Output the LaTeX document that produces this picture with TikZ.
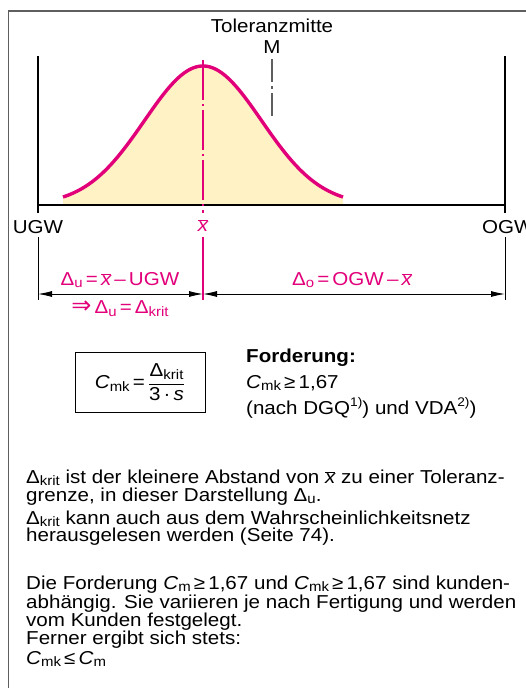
\documentclass[tikz,border=0pt]{standalone}
\usepackage{fontspec}
\setmainfont{Liberation Sans}[FakeStretch=1.1]
\newfontfamily\djv{DejaVu Sans}
\usetikzlibrary{arrows.meta}
\definecolor{mag}{RGB}{226,0,122}
\definecolor{bellfill}{RGB}{255,242,196}
\definecolor{framegray}{RGB}{95,95,95}
\newcommand\xb{\ensuremath{\overline{\mbox{\itshape x}}}}
\newcommand\sbs[1]{\raisebox{-0.28ex}{\fontsize{13.6}{13.6}\selectfont #1}}
\newcommand\sps[1]{\raisebox{0.75ex}{\fontsize{12.5}{12.5}\selectfont #1}}
\begin{document}
\begin{tikzpicture}[x=1pt,y=-1pt,
  font=\fontsize{18.7}{19}\selectfont,
  lbl/.style={inner sep=0pt},
  txt/.style={inner sep=0pt,anchor=base west},
  pinktxt/.style={inner sep=0pt,text=mag},
  thickline/.style={line width=2.2pt,black},
  thinline/.style={line width=0.9pt,black},
  dim/.style={line width=0.9pt,black,{Latex[length=14pt,width=6pt]}-{Latex[length=14pt,width=6pt]}},
  centerline/.style={mag,line width=1.1pt,dash pattern=on 40pt off 4pt on 2pt off 4pt},
  mline/.style={framegray,line width=1.1pt,dash pattern=on 23pt off 4pt on 3pt off 4pt}]
\useasboundingbox (0,0) rectangle (526,688);
% frame
\draw[framegray,line width=1.5pt] (8.5,700) -- (8.5,11) -- (540,11);
% coordinates
\coordinate (ugwTop) at (38,56);
\coordinate (ugwBot) at (38,213);
\coordinate (ogwTop) at (505,56);
\coordinate (ogwBot) at (505,213);
\coordinate (baseL) at (38,205);
\coordinate (baseR) at (505,205);
\coordinate (xTop) at (203,60);
\coordinate (xBot) at (203,213);
\coordinate (mTop) at (272,59);
\coordinate (mBot) at (272,116);
% bell fill
\fill[bellfill] plot[domain=63:343,samples=120] (\x,{205-139*exp(-0.5*((\x-203)/58.6)^2)}) -- (343,204) -- (63,204) -- cycle;
% axes
\draw[thickline] (ugwTop) -- (ugwBot);
\draw[thickline] (ogwTop) -- (ogwBot);
\draw[thickline] (baseL) -- (baseR);
% center lines
\draw[centerline] (xTop) -- (xBot);
\draw[mline] (mTop) -- (mBot);
% bell curve
\draw[mag,line width=3.4pt] plot[domain=63:343,samples=120] (\x,{205-139*exp(-0.5*((\x-203)/58.6)^2)});
% labels top
\node[lbl] (tm) at (272,26) {Toleranzmitte};
\node[lbl] (M) at (272,47) {M};
\node[lbl] (ugw) at (38,227) {UGW};
\node[pinktxt] (xbar) at (203,226) {\xb};
\node[lbl,anchor=west] (ogw) at (482,227) {OGW};
% lower lines
\coordinate (lL1) at (38,237);
\coordinate (lL2) at (38,300);
\coordinate (lM1) at (203,237);
\coordinate (lM2) at (203,300);
\coordinate (lR1) at (505,237);
\coordinate (lR2) at (505,300);
\draw[thinline] (lL1) -- (lL2);
\draw[thinline] (lR1) -- (lR2);
\draw[mag,line width=1.1pt] (lM1) -- (lM2);
\coordinate (dL) at (38,294);
\coordinate (dM) at (203,294);
\coordinate (dR) at (505,294);
\draw[dim] (dL) -- (dM);
\draw[dim] (dM) -- (dR);
\node[pinktxt] (du) at (120,280) {Δ\sbs{u}\,=\,\xb\,–\,UGW};
\node[pinktxt] (do) at (352,280) {Δ\sbs{o}\,=\,OGW\,–\,\xb};
\node[pinktxt] (imp) at (120,309) {{\djv\fontsize{24}{24}\selectfont ⇒}\,Δ\sbs{u}\,=\,Δ\sbs{krit}};
% formula box
\node[draw,line width=1pt,minimum width=130pt,minimum height=60pt,inner sep=0pt] (box) at (140,382)
  {\textit{C}\sbs{mk}\,=\,$\displaystyle\frac{\mbox{Δ\sbs{krit}}}{\mbox{3\,·\,\textit{s}}}$};
% Forderung
\node[txt] (ford) at (246,362) {\bfseries Forderung:};
\node[txt] (req) at (246,388) {\textit{C}\sbs{mk}\,≥\,1,67};
\node[txt] (nach) at (246,414) {(nach DGQ\sps{1)}) und VDA\sps{2)})};
% body text
\node[txt] (l1) at (26,483) {Δ\sbs{krit} ist der kleinere Abstand von \xb\ zu einer Toleranz-};
\node[txt] (l2) at (26,501) {grenze, in dieser Darstellung Δ\sbs{u}.};
\node[txt] (l3) at (26,524) {Δ\sbs{krit} kann auch aus dem Wahrscheinlichkeitsnetz};
\node[txt] (l4) at (26,541) {herausgelesen werden (Seite 74).};
\node[txt] (l5) at (26,589) {Die Forderung \textit{C}\sbs{m}\,≥\,1,67 und \textit{C}\sbs{mk}\,≥\,1,67 sind kunden-};
\node[txt] (l6) at (26,608) {abhängig. Sie variieren je nach Fertigung und werden};
\node[txt] (l7) at (26,626) {vom Kunden festgelegt.};
\node[txt] (l8) at (26,644) {Ferner ergibt sich stets:};
\node[txt] (l9) at (26,664) {\textit{C}\sbs{mk}\,≤\,\textit{C}\sbs{m}};
\end{tikzpicture}
\end{document}
